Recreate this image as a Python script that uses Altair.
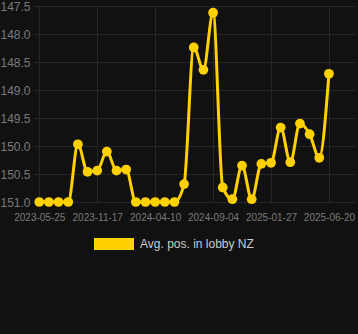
import altair as alt
import pandas as pd

dates = [
    "2023-05-25", "2023-06-23", "2023-07-22", "2023-08-20", "2023-09-19", "2023-10-18",
    "2023-11-17", "2023-12-11", "2024-01-04", "2024-01-28", "2024-02-22", "2024-03-17",
    "2024-04-10", "2024-05-04", "2024-05-29", "2024-06-22", "2024-07-17", "2024-08-10",
    "2024-09-04", "2024-09-28", "2024-10-22", "2024-11-16", "2024-12-10", "2025-01-03",
    "2025-01-27", "2025-02-20", "2025-03-16", "2025-04-09", "2025-05-03", "2025-05-27",
    "2025-06-20",
]
positions = [
    151.0, 151.0, 151.0, 151.0, 149.97, 150.46, 150.44, 150.10, 150.44, 150.42,
    151.0, 151.0, 151.0, 151.0, 151.0, 150.68, 148.24, 148.64, 147.62, 150.74,
    150.95, 150.35, 150.95, 150.32, 150.30, 149.67, 150.29, 149.60, 149.79, 150.21,
    148.71,
]
series_name = "Avg. pos. in lobby NZ"
tick_every = 6

df = pd.DataFrame({
    "idx": list(range(len(dates))),
    "date": dates,
    "pos": positions,
    "series": [series_name] * len(dates),
})

tick_idx = list(range(0, len(dates), tick_every))
label_arr = "[" + ",".join("'" + d + "'" for d in dates) + "]"

gold = "#FFD100"

x = alt.X(
    "idx:Q",
    scale=alt.Scale(domain=[-0.65, 32.7], nice=False, zero=False),
    axis=alt.Axis(
        values=tick_idx,
        labelExpr=label_arr + "[datum.value]",
        title=None,
        ticks=False,
        domain=False,
        labelColor="#7a7a7a",
        labelFontSize=10,
        labelFont="Liberation Sans",
        labelPadding=10,
        gridColor="#262626",
        gridWidth=1,
        labelFlush=False,
    ),
)
y = alt.Y(
    "pos:Q",
    scale=alt.Scale(domain=[147.5, 151.0], reverse=True, nice=False, zero=False),
    axis=alt.Axis(
        values=[147.5, 148.0, 148.5, 149.0, 149.5, 150.0, 150.5, 151.0],
        format=".1f",
        title=None,
        ticks=False,
        domain=False,
        labelColor="#7a7a7a",
        labelFontSize=12,
        labelFont="Liberation Sans",
        labelPadding=3,
        gridColor="#262626",
        gridWidth=1,
    ),
)
color = alt.Color(
    "series:N",
    scale=alt.Scale(domain=[series_name], range=[gold]),
    legend=alt.Legend(
        title=None,
        orient="none",
        legendX=61,
        legendY=218,
        symbolType="M-1,-0.3H1V0.3H-1Z",
        symbolSize=1600,
        symbolStrokeWidth=0,
        symbolFillColor=gold,
        labelColor="#cccccc",
        labelFontSize=12,
        labelFont="Liberation Sans",
        labelOffset=6,
    ),
)

line = alt.Chart(df).mark_line(
    interpolate="monotone", strokeWidth=3, clip=False
).encode(x=x, y=y, color=color)

points = alt.Chart(df).mark_circle(size=95, opacity=1, clip=False).encode(
    x=x, y=y, color=alt.Color("series:N", scale=alt.Scale(domain=[series_name], range=[gold]), legend=None)
)

chart = (
    alt.layer(line, points)
    .properties(
        width=322,
        height=196,
        padding={"left": 33, "top": 6, "right": 3, "bottom": 132},
        autosize=alt.AutoSizeParams(type="none"),
        background="#111111",
    )
    .configure_view(stroke=None, fill="#111111")
)

chart.save("out.html", embed_options={"renderer": "svg", "actions": False})
